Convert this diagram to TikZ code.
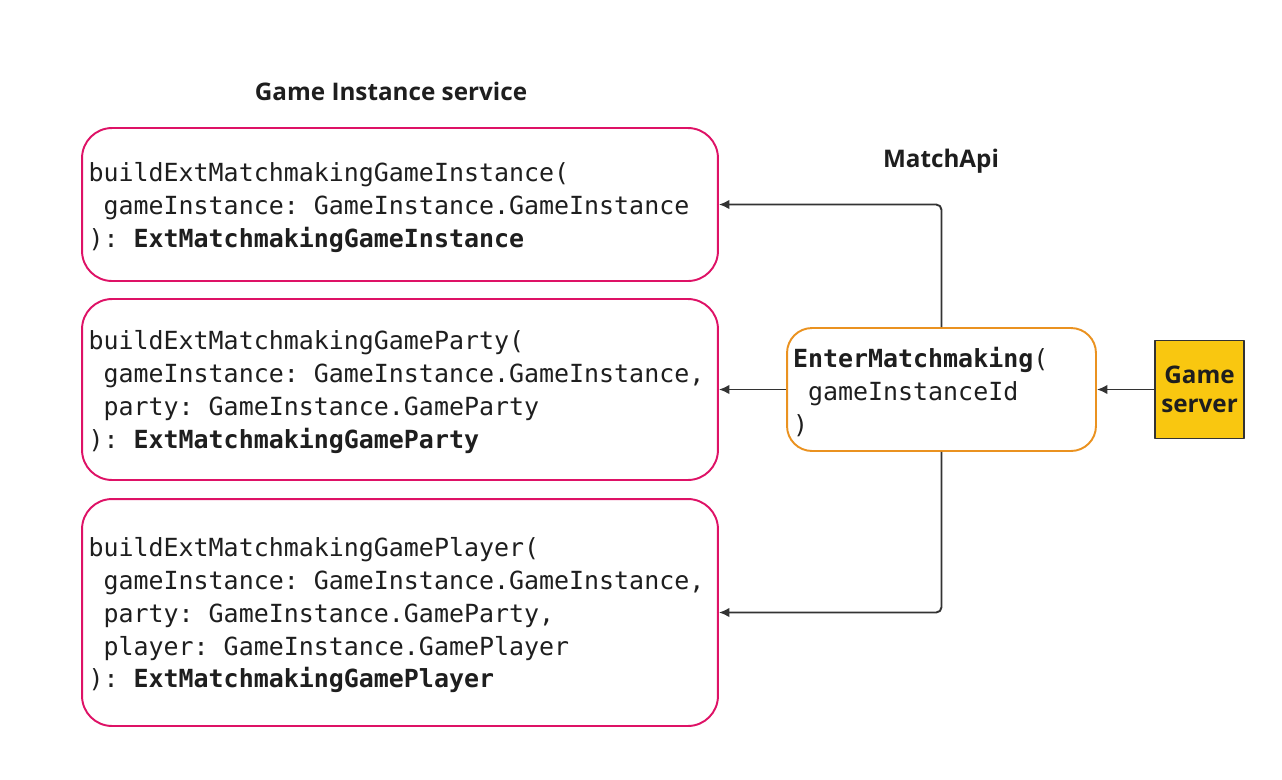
\documentclass[tikz,border=0pt]{standalone}
\usepackage{fontspec}
\setmainfont{Open Sans}
\setmonofont{DejaVu Sans Mono}
\usetikzlibrary{arrows.meta}
\definecolor{fnpink}{RGB}{222,18,102}
\definecolor{apiorange}{RGB}{234,146,32}
\definecolor{srvyellow}{RGB}{249,199,16}
\definecolor{linegray}{RGB}{51,51,51}
\definecolor{codetext}{RGB}{30,30,30}
\newcommand{\ind}{\hphantom{x}}
\newcommand{\lift}{\rule{0pt}{14pt}}
\begin{document}
\begin{tikzpicture}[x=0.02cm, y=-0.02cm, line join=round,
    fnbox/.style={draw=fnpink, line width=1.1pt, rounded corners=0.6cm, minimum width=12.72cm,
        inner xsep=0.13cm, text width=12.46cm, align=left, text=codetext,
        font=\ttfamily\fontsize{14.2}{18.7}\selectfont},
    apibox/.style={draw=apiorange, line width=1.1pt, rounded corners=0.5cm, minimum width=6.18cm,
        minimum height=2.46cm, inner xsep=0.12cm, text width=5.94cm, align=left, text=codetext,
        font=\ttfamily\fontsize{14.2}{18.7}\selectfont},
    srvbox/.style={draw=linegray, fill=srvyellow, line width=0.8pt, minimum width=1.78cm,
        minimum height=1.96cm, inner sep=0pt, align=center, text=codetext,
        font=\bfseries\fontsize{13.8}{16.5}\selectfont},
    heading/.style={font=\bfseries\fontsize{13.8}{16.5}\selectfont, text=codetext},
    conn/.style={draw=linegray, line width=1.1pt, rounded corners=3pt, -{Latex[length=6pt,width=5.5pt]}}]
  \useasboundingbox (0,0) rectangle (1282,779);
  % services
  \node[heading] (svctitle) at (391,91) {Game Instance service};
  \node[heading] (apititle) at (941,161) {MatchApi};
  \node[fnbox, minimum height=3.06cm] (inst) at (400,204.5)
    {\lift buildExtMatchmakingGameInstance(\\
     \ind gameInstance:\ind GameInstance.GameInstance\\
     ):\ind\textbf{ExtMatchmakingGameInstance}};
  \node[fnbox, minimum height=3.62cm] (party) at (400,389.5)
    {\lift buildExtMatchmakingGameParty(\\
     \ind gameInstance:\ind GameInstance.GameInstance,\\
     \ind party:\ind GameInstance.GameParty\\
     ):\ind\textbf{ExtMatchmakingGameParty}};
  \node[fnbox, minimum height=4.54cm] (player) at (400,612.5)
    {\lift buildExtMatchmakingGamePlayer(\\
     \ind gameInstance:\ind GameInstance.GameInstance,\\
     \ind party:\ind GameInstance.GameParty,\\
     \ind player:\ind GameInstance.GamePlayer\\
     ):\ind\textbf{ExtMatchmakingGamePlayer}};
  \node[apibox] (enter) at (941.5,389.5)
    {\lift\textbf{EnterMatchmaking}(\\
     \ind gameInstanceId\\
     )};
  \node[srvbox] (server) at (1199.5,389.5) {Game\\server};
  % calls
  \draw[conn] (enter.north) |- (inst);
  \draw[conn] (enter) -- (party);
  \draw[conn] (enter.south) |- (player);
  \draw[conn] (server) -- (enter);
\end{tikzpicture}
\end{document}
